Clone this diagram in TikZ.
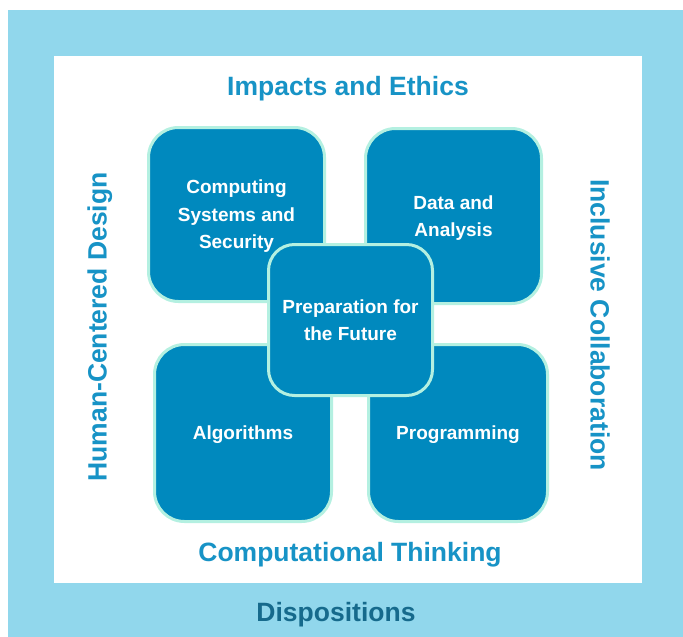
\documentclass[tikz,border=0pt]{standalone}
\usepackage{fontspec}
\setmainfont{Liberation Sans}
\definecolor{frameblue}{HTML}{91D7EC}
\definecolor{boxblue}{HTML}{0089BE}
\definecolor{mint}{HTML}{B4F0E1}
\definecolor{titleblue}{HTML}{1793C6}
\definecolor{darkblue}{HTML}{166A8C}
\tikzset{
  area/.style={draw=mint, line width=3pt, fill=boxblue, rounded corners=30pt, text=white,
    font=\bfseries\fontsize{19}{27.5}\selectfont, align=center, inner sep=0pt, text depth=0pt},
  title/.style={text=titleblue, font=\bfseries\fontsize{26.5}{30}\selectfont, inner sep=0pt},
}
\begin{document}
\begin{tikzpicture}[x=1pt,y=-1pt]
\useasboundingbox (0,0) rectangle (683,637);
\fill[white] (0,0) rectangle (683,637);
\fill[frameblue] (8,10) rectangle (683,637);
\fill[white] (54,56) rectangle (642,583);

\node[area, minimum width=176pt, minimum height=174pt] (cs) at (236.5,214.5) {Computing\\Systems and\\Security};
\node[area, minimum width=176pt, minimum height=175pt] (da) at (453.5,216) {Data and\\Analysis};
\node[area, minimum width=177pt, minimum height=177pt] (al) at (243,433) {Algorithms};
\node[area, minimum width=179pt, minimum height=177pt] (pr) at (458,433) {Programming};
\node[area, minimum width=164pt, minimum height=151pt, rounded corners=26pt] (pf) at (350.5,320) {Preparation for\\the Future};

\node[title, text depth=0pt] (ie) at (348,86) {Impacts and Ethics};
\node[title, text depth=0pt] (ct) at (350,552) {Computational Thinking};
\node[title, text depth=0pt, text=darkblue] (di) at (336,612) {Dispositions};
\node[title, text depth=0pt, rotate=90] (hc) at (97,327) {Human-Centered Design};
\node[title, rotate=-90] (ic) at (600,325) {Inclusive Collaboration};
\end{tikzpicture}
\end{document}
